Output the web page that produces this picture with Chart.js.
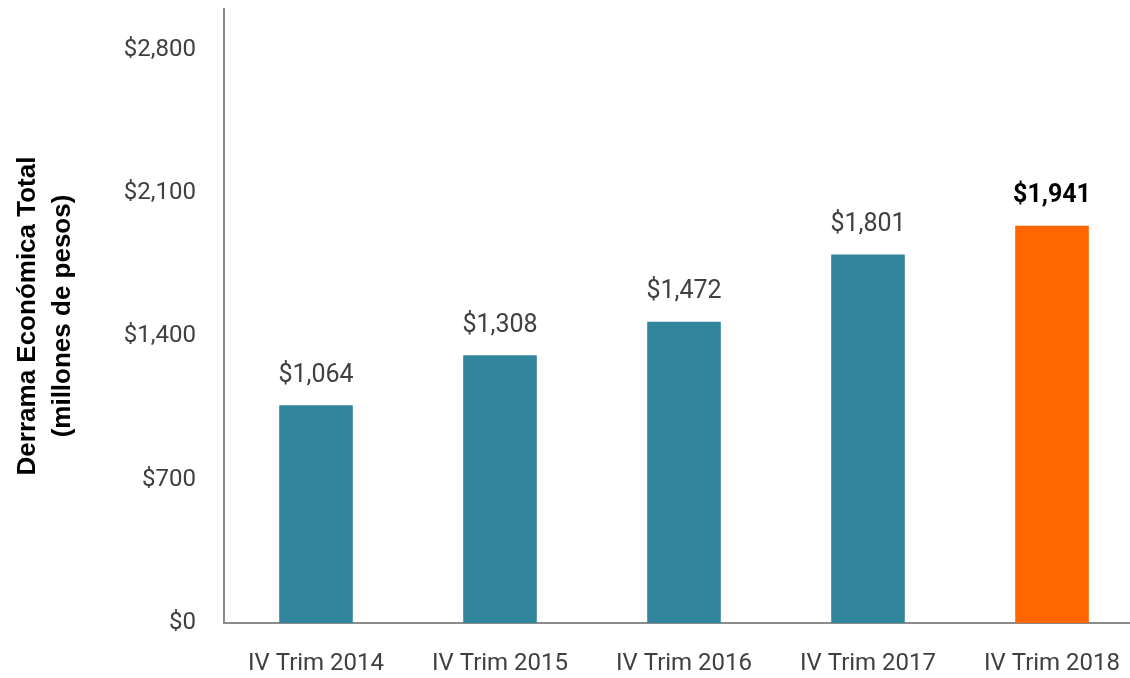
<!DOCTYPE html>
<html>
<head>
<meta charset="utf-8">
<script src="https://cdn.jsdelivr.net/npm/chart.js@4"></script>
<style>
  html, body { margin: 0; padding: 0; background: #fff; overflow: hidden; }
  #wrap { width: 1144px; height: 678px; }
</style>
</head>
<body>
<div id="wrap"><canvas id="barChart"></canvas></div>
<script>
const categories = ["IV Trim 2014", "IV Trim 2015", "IV Trim 2016", "IV Trim 2017", "IV Trim 2018"];
const derrama = [1064, 1308, 1472, 1801, 1941];
const barColors = ["#31859c", "#31859c", "#31859c", "#31859c", "#ff6600"];
const yTicks = [0, 700, 1400, 2100, 2800];

const tickFont = "'Liberation Sans Narrow', Roboto, sans-serif";

// draw the value over each bar, last one in bold
const valueLabels = {
  id: "valueLabels",
  afterDatasetsDraw(chart) {
    const ctx = chart.ctx;
    const meta = chart.getDatasetMeta(0);
    ctx.save();
    ctx.textAlign = "center";
    ctx.textBaseline = "bottom";
    meta.data.forEach((bar, i) => {
      const last = i === derrama.length - 1;
      ctx.font = (last ? "bold " : "") + "25px " + tickFont;
      ctx.fillStyle = last ? "#000" : "#404040";
      ctx.fillText("$" + derrama[i].toLocaleString("en-US"), bar.x, bar.y - 17);
    });
    ctx.restore();
  }
};

new Chart(document.getElementById("barChart"), {
  type: "bar",
  data: {
    labels: categories,
    datasets: [{
      data: derrama,
      backgroundColor: barColors,
      barPercentage: 0.4,
      categoryPercentage: 1
    }]
  },
  options: {
    responsive: true,
    maintainAspectRatio: false,
    animation: false,
    layout: { padding: { top: 9, right: 0, bottom: 0, left: 0 } },
    plugins: {
      legend: { display: false },
      tooltip: { enabled: false }
    },
    scales: {
      x: {
        grid: { display: false, drawTicks: false },
        border: { color: "#8c8c8c", width: 2 },
        ticks: {
          color: "#404040",
          font: { family: tickFont, size: 24 },
          padding: 27,
          maxRotation: 0
        },
        afterFit: (scale) => {
          scale.height = 55;
          scale.paddingLeft = 0;
          scale.paddingRight = 0;
        }
      },
      y: {
        min: 0,
        max: 3000,
        grid: { display: false, drawTicks: false },
        border: { color: "#8c8c8c", width: 2 },
        afterBuildTicks: (scale) => { scale.ticks = yTicks.map(v => ({ value: v })); },
        ticks: {
          color: "#404040",
          font: { family: tickFont, size: 24 },
          padding: 28,
          callback: (v) => "$" + Number(v).toLocaleString("en-US")
        },
        title: {
          display: true,
          text: ["Derrama Económica Total", "(millones de pesos)"],
          color: "#000",
          font: { family: "'Liberation Sans', Arial, sans-serif", size: 26, weight: "bold", lineHeight: 1.35 },
          padding: { top: 10, bottom: 0 }
        },
        afterFit: (scale) => {
          scale.width = 224;
          scale.paddingTop = 0;
          scale.paddingBottom = 0;
        }
      }
    }
  },
  plugins: [valueLabels]
});
</script>
</body>
</html>
